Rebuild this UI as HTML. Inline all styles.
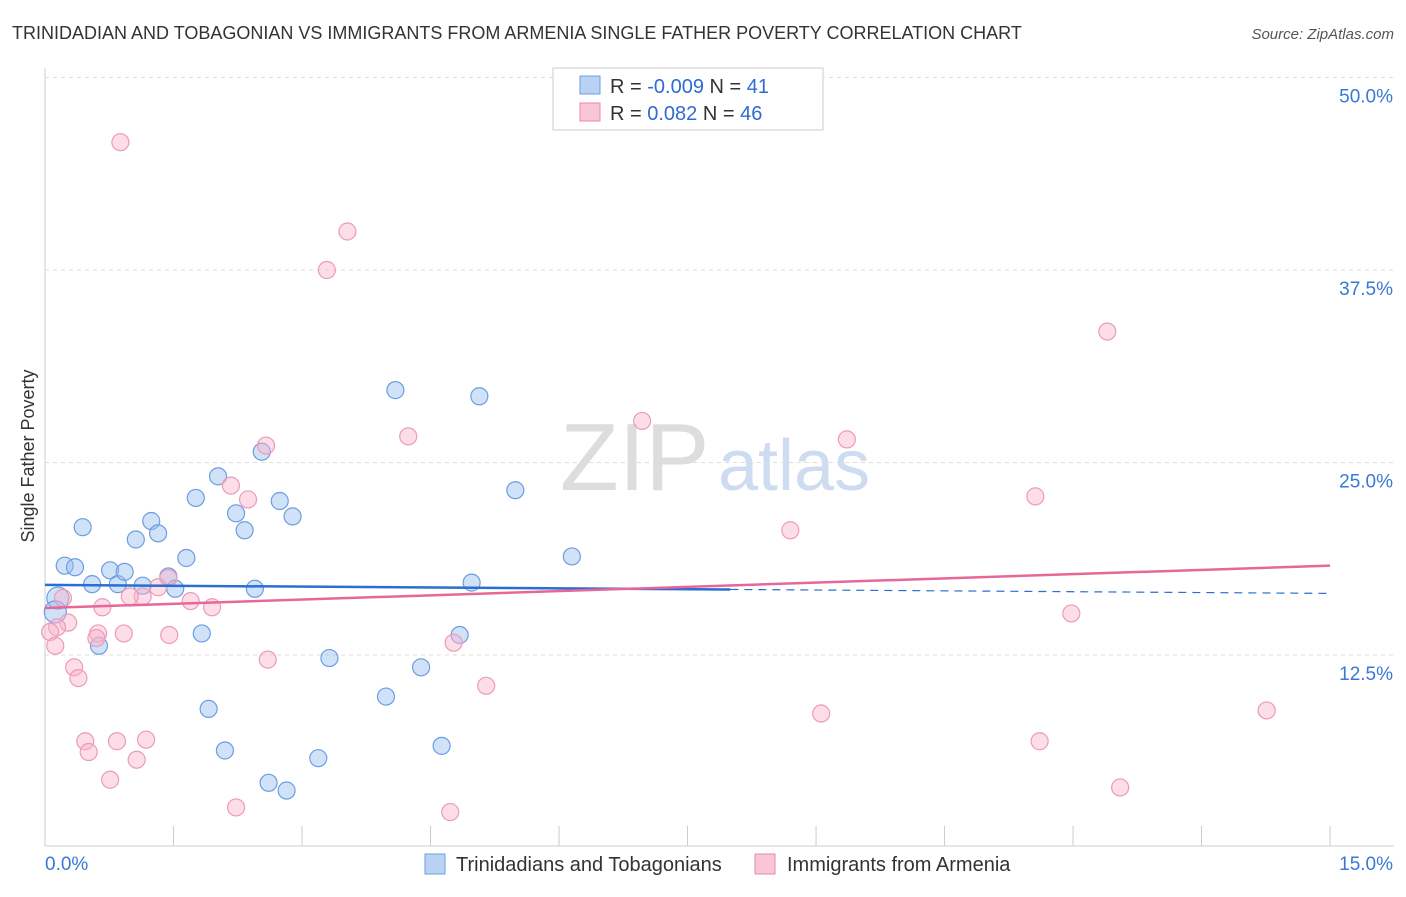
<!DOCTYPE html>
<html><head><meta charset="utf-8"><style>
body{margin:0;background:#fff;font-family:"Liberation Sans",sans-serif;}
svg text{font-family:"Liberation Sans",sans-serif;}
</style></head><body>
<svg id="chart" width="1406" height="892">
<text x="12" y="39" font-size="18" fill="#333">TRINIDADIAN AND TOBAGONIAN VS IMMIGRANTS FROM ARMENIA SINGLE FATHER POVERTY CORRELATION CHART</text>
<text x="1394" y="39" font-size="15" fill="#555" font-style="italic" text-anchor="end">Source: ZipAtlas.com</text>
<text x="34" y="456" font-size="18" fill="#333" transform="rotate(-90 34 456)" text-anchor="middle">Single Father Poverty</text>
<text x="560" y="490" font-size="96" fill="#ddd" font-family="Liberation Serif">ZIP</text>
<text x="718" y="490" font-size="72" fill="#cddcf0">atlas</text>
<g id="grid"></g><g id="axes"></g><g id="pts"></g><g id="trend"></g>
<g>
<rect x="553" y="68" width="270" height="62" fill="#fff" stroke="#ccc"/>
<rect x="580" y="76" width="20" height="18" fill="#b8d2f3" stroke="#6d9de0"/>
<rect x="580" y="103" width="20" height="18" fill="#f9c6d6" stroke="#e88aaa"/>
<text x="610" y="93" font-size="20" fill="#333">R = <tspan fill="#2f6bd1">-0.009</tspan>   N =  <tspan fill="#2f6bd1">41</tspan></text>
<text x="610" y="120" font-size="20" fill="#333">R =   <tspan fill="#2f6bd1">0.082</tspan>   N = <tspan fill="#2f6bd1">46</tspan></text>
</g>
<g>
<rect x="425" y="854" width="20" height="20" fill="#b8d2f3" stroke="#6d9de0"/>
<text x="456" y="871" font-size="20" fill="#333">Trinidadians and Tobagonians</text>
<rect x="755" y="854" width="20" height="20" fill="#f9c6d6" stroke="#e88aaa"/>
<text x="787" y="871" font-size="20" fill="#333">Immigrants from Armenia</text>
</g>
</svg>
<script>
const blueX=[0.15,0.23,0.35,0.44,0.55,0.63,0.76,0.85,0.93,1.06,1.14,1.24,1.32,1.44,1.52,1.65,1.76,1.83,1.91,2.02,2.10,2.23,2.33,2.45,2.53,2.61,2.74,2.82,2.89,3.19,3.32,3.98,4.09,4.39,4.63,4.84,4.98,5.07,5.49,6.15,0.12];
const blueY=[16.2,18.3,18.2,20.8,17.1,13.1,18.0,17.1,17.9,20.0,17.0,21.2,20.4,17.6,16.8,18.8,22.7,13.9,9.0,24.1,6.3,21.7,20.6,16.8,25.7,4.2,22.5,3.7,21.5,5.8,12.3,9.8,29.7,11.7,6.6,13.8,17.2,29.3,23.2,18.9,15.3];
const pinkX=[0.88,3.53,3.29,12.40,6.97,4.24,2.58,9.36,2.17,2.37,11.56,8.70,1.44,1.32,0.21,1.14,0.99,1.70,0.67,1.95,0.27,0.14,0.06,11.98,0.62,0.92,1.45,0.60,0.12,4.77,2.60,0.34,0.39,5.15,9.06,14.26,0.47,0.84,1.18,0.51,1.07,11.61,0.76,2.23,4.73,12.55];
const pinkY=[45.8,40.0,37.5,33.5,27.7,26.7,26.1,26.5,23.5,22.6,22.8,20.6,17.5,16.9,16.2,16.3,16.3,16.0,15.6,15.6,14.6,14.3,14.0,15.2,13.9,13.9,13.8,13.6,13.1,13.3,12.2,11.7,11.0,10.5,8.7,8.9,6.9,6.9,7.0,6.2,5.7,6.9,4.4,2.6,2.3,3.9];
const yTicks=[12.5,25.0,37.5,50.0];
const xTickVals=[0,1.5,3,4.5,6,7.5,9,10.5,12,13.5,15];
const blueTrend=[17.05,16.5];
const pinkTrend=[15.55,18.3];
const NS="http://www.w3.org/2000/svg";
const sx=v=>45+v*85.67, sy=v=>847.5-v*15.4;
function mk(tag,attrs,parent){const e=document.createElementNS(NS,tag);for(const k in attrs)e.setAttribute(k,attrs[k]);document.getElementById(parent).appendChild(e);return e;}
yTicks.forEach(t=>{
 const l=mk('line',{x1:45,x2:1394,y1:sy(t),y2:sy(t),stroke:'#ddd','stroke-dasharray':'4,4'},'grid');
 
 
 const tx=mk('text',{x:1393,y:sy(t)+25,'font-size':19,fill:'#3a78d6','text-anchor':'end'},'grid');
 tx.textContent=t.toFixed(1)+'%';
 
 
});
mk('line',{x1:45,x2:45,y1:68,y2:846,stroke:'#ccc'},'axes');
mk('line',{x1:45,x2:1394,y1:846,y2:846,stroke:'#ccc'},'axes');
xTickVals.forEach(t=>{const l=mk('line',{x1:sx(t),x2:sx(t),y1:826,y2:846,stroke:'#ccc'},'axes');
 
 });
let a=mk('text',{x:45,y:870,'font-size':19,fill:'#3a78d6'},'axes');a.textContent='0.0%';


a=mk('text',{x:1393,y:870,'font-size':19,fill:'#3a78d6','text-anchor':'end'},'axes');a.textContent='15.0%';


blueX.forEach((x,i)=>{const r=(i===0||i===40)?11:8.5;
 const c=mk('circle',{cx:sx(x),cy:sy(blueY[i]),r:r,fill:'rgba(150,190,240,0.45)',stroke:'#6d9de0','stroke-width':1.2},'pts');
 
 });
pinkX.forEach((x,i)=>{
 const c=mk('circle',{cx:sx(x),cy:sy(pinkY[i]),r:8.5,fill:'rgba(248,180,205,0.45)',stroke:'#ec9bb8','stroke-width':1.2},'pts');
 
 });
const bAt=v=>blueTrend[0]+(blueTrend[1]-blueTrend[0])*v/15;
let t1=mk('line',{x1:sx(0),y1:sy(bAt(0)),x2:sx(8),y2:sy(bAt(8)),stroke:'#2a6fd0','stroke-width':2.5},'trend');


let t2=mk('line',{x1:sx(8),y1:sy(bAt(8)),x2:sx(15),y2:sy(bAt(15)),stroke:'#2a6fd0','stroke-width':1.2,'stroke-dasharray':'8,6'},'trend');


let t3=mk('line',{x1:sx(0),y1:sy(pinkTrend[0]),x2:sx(15),y2:sy(pinkTrend[1]),stroke:'#e8679a','stroke-width':2.5},'trend');


</script>
</body></html>
